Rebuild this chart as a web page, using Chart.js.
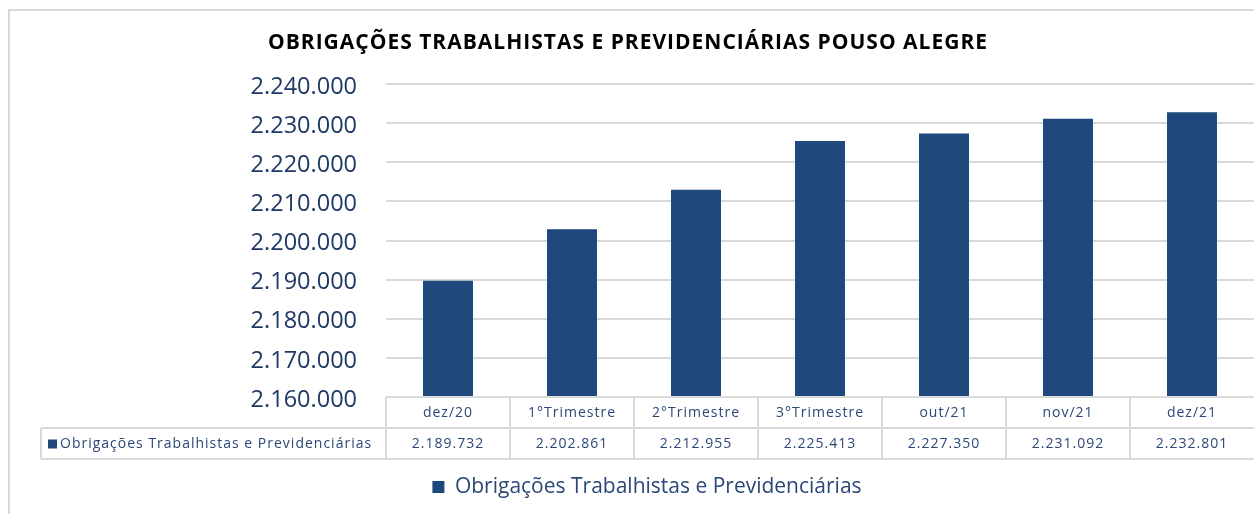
<!DOCTYPE html>
<html>
<head>
<meta charset="utf-8">
<script src="https://cdn.jsdelivr.net/npm/chart.js@4"></script>
<style>
  html, body { margin: 0; padding: 0; background: #ffffff; }
  #wrap { width: 1254px; height: 514px; position: relative; }
</style>
</head>
<body>
<div id="wrap"><canvas id="c" width="1254" height="514"></canvas></div>
<script>
// ---- data ----
const chartTitle = 'OBRIGAÇÕES TRABALHISTAS E PREVIDENCIÁRIAS POUSO ALEGRE';
const categories = ['dez/20', '1°Trimestre', '2°Trimestre', '3°Trimestre', 'out/21', 'nov/21', 'dez/21'];
const seriesName = 'Obrigações Trabalhistas e Previdenciárias';
const seriesValues = [2189732, 2202861, 2212955, 2225413, 2227350, 2231092, 2232801];
const yMin = 2160000;
const yMax = 2240000;
const yStep = 10000;

// ---- styles ----
const FONT = "'Open Sans', 'Liberation Sans', sans-serif";
const BAR = '#1F497D';
const GRID = '#d9d9d9';
const TICK = '#1f3864';
const TABLE_TXT = '#2b4777';

function fmt(v) {
  return String(v).replace(/\B(?=(\d{3})+(?!\d))/g, '.');
}

const frame = {
  id: 'frame',
  beforeDraw(chart) {
    const ctx = chart.ctx;
    ctx.save();
    ctx.fillStyle = '#ffffff';
    ctx.fillRect(0, 0, chart.width, chart.height);
    ctx.strokeStyle = GRID;
    ctx.lineWidth = 2;
    ctx.beginPath();
    ctx.moveTo(9, chart.height + 5);
    ctx.lineTo(9, 10);
    ctx.lineTo(chart.width + 5, 10);
    ctx.stroke();
    ctx.restore();
  }
};

const titleText = {
  id: 'titleText',
  afterDraw(chart) {
    const ctx = chart.ctx;
    ctx.save();
    ctx.fillStyle = '#000000';
    ctx.font = "bold 21px " + FONT;
    ctx.letterSpacing = '1px';
    ctx.textAlign = 'center';
    ctx.textBaseline = 'middle';
    ctx.fillText(chartTitle, 628, 43);
    ctx.restore();
  }
};

const dataTable = {
  id: 'dataTable',
  afterDraw(chart) {
    const ctx = chart.ctx;
    const x = chart.scales.x;
    const area = chart.chartArea;
    const n = categories.length;
    const w = (x.right - x.left) / n;
    const top = area.bottom;
    const r1 = top + 31;
    const r2 = r1 + 31;
    const rowLeft = 41;
    ctx.save();
    ctx.strokeStyle = GRID;
    ctx.lineWidth = 2;
    ctx.beginPath();
    ctx.moveTo(x.left, top); ctx.lineTo(x.right + 2, top);
    ctx.moveTo(rowLeft, r1); ctx.lineTo(x.right + 2, r1);
    ctx.moveTo(rowLeft, r2); ctx.lineTo(x.right + 2, r2);
    ctx.moveTo(rowLeft, r1); ctx.lineTo(rowLeft, r2);
    for (let i = 0; i < n; i++) {
      const lx = x.left + i * w;
      ctx.moveTo(lx, top); ctx.lineTo(lx, r2);
    }
    ctx.stroke();

    ctx.fillStyle = TABLE_TXT;
    ctx.textAlign = 'center';
    ctx.textBaseline = 'middle';
    ctx.font = "14px " + FONT;
    ctx.letterSpacing = '1px';
    for (let i = 0; i < n; i++) {
      const cx = x.getPixelForValue(i);
      ctx.fillText(categories[i], cx, (top + r1) / 2 + 1);
      ctx.fillText(fmt(seriesValues[i]), cx, (r1 + r2) / 2 + 1);
    }
    ctx.fillStyle = BAR;
    ctx.fillRect(48, (r1 + r2) / 2 - 4, 9, 9);
    ctx.fillStyle = TABLE_TXT;
    ctx.textAlign = 'left';
    ctx.fillText(seriesName, 60, (r1 + r2) / 2 + 1);
    ctx.restore();
  }
};

new Chart(document.getElementById('c'), {
  type: 'bar',
  data: {
    labels: categories,
    datasets: [{
      label: seriesName,
      data: seriesValues,
      backgroundColor: BAR,
      borderWidth: 0,
      categoryPercentage: 1,
      barPercentage: 0.403
    }]
  },
  options: {
    responsive: false,
    animation: false,
    layout: { padding: { left: 40, right: 0, top: 84, bottom: 6.5 } },
    plugins: {
      title: { display: false },
      legend: {
        display: true,
        position: 'bottom',
        labels: {
          color: TABLE_TXT,
          font: { family: FONT, size: 21 },
          boxWidth: 12,
          boxHeight: 12,
          padding: 10
        }
      },
      tooltip: { enabled: false }
    },
    scales: {
      x: {
        display: true,
        grid: { display: false },
        border: { display: false },
        ticks: { display: false },
        afterFit(scale) { scale.height = 69.5; }
      },
      y: {
        min: yMin,
        max: yMax,
        grid: { color: GRID, lineWidth: 2, drawTicks: false },
        border: { display: false },
        ticks: {
          stepSize: yStep,
          padding: 29,
          labelOffset: 3,
          color: TICK,
          font: { family: FONT, size: 23.5 },
          callback: (v) => fmt(v)
        },
        afterFit(scale) { scale.width = 346; }
      }
    }
  },
  plugins: [frame, dataTable, titleText]
});
</script>
</body>
</html>
